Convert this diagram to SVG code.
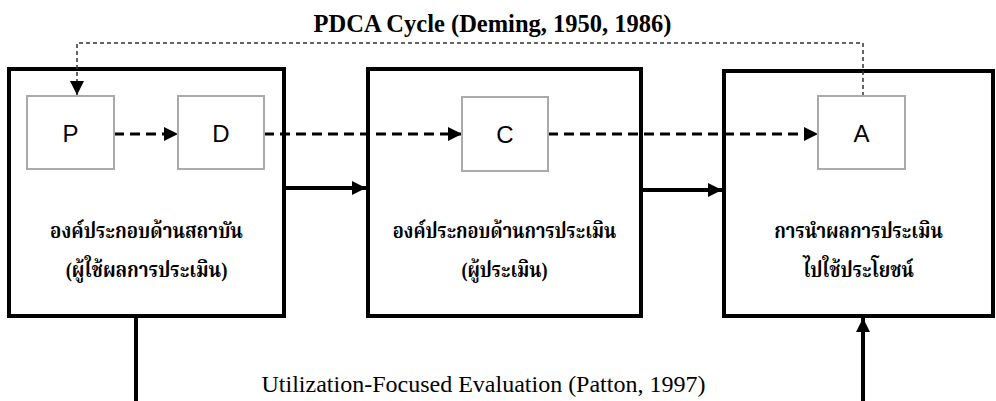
<svg xmlns="http://www.w3.org/2000/svg" width="996" height="401" viewBox="0 0 996 401">
<defs>
<style>
.big{fill:#fff;stroke:#000;stroke-width:4}
.small{fill:#fff;stroke:#aaa;stroke-width:2}
.lbl{font-family:"Liberation Sans",Arial,sans-serif;font-size:24px;fill:#000;text-anchor:middle}
.th{font-family:"Liberation Serif","Noto Serif Thai","Noto Sans Thai",serif;font-weight:bold;font-size:22px;fill:#000;text-anchor:middle}
.title{font-family:"Liberation Serif","Times New Roman",serif;font-weight:bold;font-size:24.5px;fill:#000;text-anchor:middle}
.note{font-family:"Liberation Serif","Times New Roman",serif;font-size:24px;fill:#000;text-anchor:middle}
.dash{fill:none;stroke:#000;stroke-width:3;stroke-dasharray:10 6}
.thin{fill:none;stroke:#333;stroke-width:1.5;stroke-dasharray:4 3}
.solid{fill:none;stroke:#000;stroke-width:4}
</style>
<marker id="ah" viewBox="0 0 10 10" refX="10" refY="5" markerWidth="15" markerHeight="14" markerUnits="userSpaceOnUse" orient="auto"><path d="M0,0L10,5L0,10z" fill="#000"/></marker>
</defs>
<text class="title" x="492.5" y="32">PDCA Cycle (Deming, 1950, 1986)</text>
<g id="box1"><rect class="big" x="9" y="69" width="275" height="247"/>
<g transform="translate(146.5,0) scale(0.85,1)">
<text class="th" x="0" y="238">องค์ประกอบด้านสถาบัน</text>
<text class="th" x="0" y="277">(ผู้ใช้ผลการประเมิน)</text></g></g>
<g id="box2"><rect class="big" x="368" y="69" width="273" height="247"/>
<g transform="translate(504.5,0) scale(0.83,1)">
<text class="th" x="0" y="238">องค์ประกอบด้านการประเมิน</text>
<text class="th" x="0" y="277">(ผู้ประเมิน)</text></g></g>
<g id="box3"><rect class="big" x="724" y="71" width="269" height="245"/>
<g transform="translate(858.5,0) scale(0.84,1)">
<text class="th" x="0" y="238">การนำผลการประเมิน</text>
<text class="th" x="0" y="277">ไปใช้ประโยชน์</text></g></g>
<g id="connectors">
<path class="solid" d="M284,188H366" marker-end="url(#ah)"/>
<path class="solid" d="M641,190H722" marker-end="url(#ah)"/>
<path class="solid" d="M136,316V401"/>
<path class="solid" d="M863,401V318" marker-end="url(#ah)"/>
<path class="dash" d="M114,134H178" marker-end="url(#ah)"/>
<path class="dash" d="M264,134H462" marker-end="url(#ah)"/>
<path class="dash" d="M548,134H818" marker-end="url(#ah)"/>
<path class="thin" d="M863,96V43H77V95" marker-end="url(#ah)"/>
</g>
<g id="P"><rect class="small" x="27" y="96" width="87" height="73"/><text class="lbl" x="70.5" y="142">P</text></g>
<g id="D"><rect class="small" x="178" y="96" width="86" height="73"/><text class="lbl" x="221" y="142">D</text></g>
<g id="C"><rect class="small" x="462" y="97" width="86" height="74"/><text class="lbl" x="505" y="143">C</text></g>
<g id="A"><rect class="small" x="818" y="96" width="87" height="73"/><text class="lbl" x="861.5" y="142">A</text></g>
<text class="note" x="483.5" y="392">Utilization-Focused Evaluation (Patton, 1997)</text>
</svg>
